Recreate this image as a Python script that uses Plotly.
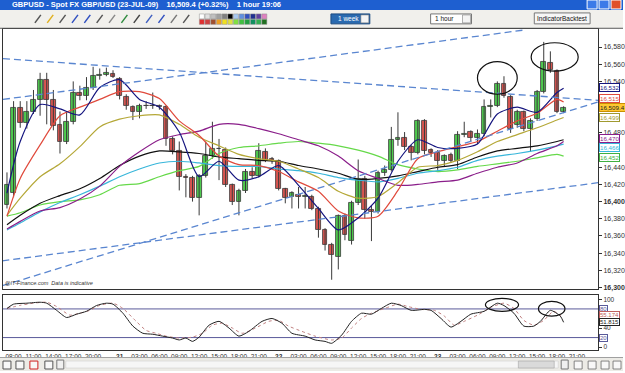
import plotly.graph_objects as go
from datetime import datetime, timedelta

BASE = datetime(2009, 7, 21, 0, 0)

# ---------------- data ----------------
candle_hours = list(range(-17, 68))  # hourly candles, hours relative to 21-Jul 00:00
opens = [16396,16410,16509,16492,16504,16518,16542,16518,16489,16470,
         16493,16527,16523,16533,16547,16548,16549,16543,16522,16510,
         16505,16511,16512,16511,16510,16473,16459,16429,16428,16404,
         16430,16453,16462,16460,16419,16400,16413,16435,16430,16458,
         16450,16447,16415,16405,16408,16406,16406,16392,16367,16350,
         16336,16383,16354,16399,16426,16390,16388,16434,16437,16472,
         16474,16464,16457,16494,16460,16457,16448,16455,16448,16478,
         16481,16474,16479,16510,16512,16537,16522,16489,16504,16485,
         16496,16528,16562,16552,16505]
highs = [16434,16517,16517,16517,16530,16550,16550,16530,16505,16505,
         16540,16535,16545,16557,16555,16556,16553,16545,16525,16512,
         16514,16517,16527,16513,16512,16476,16470,16432,16430,16432,
         16470,16493,16473,16463,16421,16415,16438,16440,16468,16462,
         16452,16449,16416,16412,16417,16417,16408,16394,16369,16352,
         16385,16386,16401,16449,16430,16395,16436,16442,16487,16504,
         16481,16466,16496,16496,16462,16460,16455,16457,16482,16493,
         16483,16484,16519,16519,16540,16546,16524,16507,16506,16497,
         16530,16586,16575,16554,16511]
lows = [16392,16405,16486,16485,16502,16500,16490,16483,16456,16467,
        16490,16518,16518,16530,16542,16546,16544,16519,16507,16495,
        16497,16508,16508,16507,16465,16455,16413,16405,16400,16384,
        16428,16450,16425,16417,16396,16384,16410,16427,16428,16446,
        16444,16413,16398,16392,16392,16392,16390,16358,16343,16309,
        16321,16355,16350,16396,16380,16354,16386,16430,16435,16465,
        16460,16448,16455,16455,16452,16437,16441,16445,16438,16475,
        16470,16467,16476,16498,16510,16521,16480,16486,16482,16458,
        16494,16526,16550,16503,16503]
closes = [16419,16509,16492,16504,16518,16542,16518,16488,16470,16493,
          16527,16523,16533,16547,16548,16550,16545,16523,16511,16505,
          16512,16512,16511,16510,16473,16459,16429,16428,16404,16430,
          16453,16462,16461,16419,16400,16413,16435,16430,16459,16448,
          16447,16415,16404,16410,16406,16407,16392,16367,16350,16338,
          16383,16361,16399,16426,16390,16388,16434,16437,16472,16474,
          16464,16457,16494,16459,16457,16448,16453,16448,16478,16479,
          16474,16479,16510,16512,16537,16523,16485,16504,16485,16494,
          16528,16563,16553,16505,16509]

# moving averages read at these hours
ma_hours = [-17,-15,-12,-9,-6,-3,0,3,6,9,12,15,18,21,24,27,30,33,36,39,42,45,48,51,54,57,60,63,66,67]
ma_navy = [16410,16470,16513,16508,16501,16533,16542,16519,16510,16481,16429,16447,16425,16429,16442,
           16419,16392,16367,16381,16404,16447,16472,16463,16462,16467,16502,16510,16504,16527,16532]
ma_red = [16383,16427,16466,16500,16510,16519,16528,16528,16520,16494,16477,16453,16443,16442,16435,
          16423,16412,16389,16381,16383,16413,16450,16458,16464,16470,16482,16494,16503,16519,16516]
ma_olive = [16384,16404,16429,16444,16464,16487,16496,16500,16501,16490,16475,16465,16455,16450,16447,
            16438,16428,16412,16404,16406,16422,16440,16442,16448,16458,16470,16478,16486,16495,16498]
ma_purple = [16368,16377,16389,16393,16403,16418,16441,16458,16472,16478,16482,16490,16490,16485,16479,
             16472,16465,16453,16436,16427,16419,16420,16423,16425,16433,16440,16445,16456,16465,16470]
ma_black = [16373,16384,16398,16407,16415,16427,16442,16453,16459,16458,16456,16452,16450,16448,16447,
            16442,16438,16433,16426,16427,16430,16435,16440,16443,16452,16459,16462,16465,16470,16472]
ma_cyan = [16367,16375,16388,16399,16408,16418,16429,16438,16445,16447,16445,16442,16441,16441,16438,
           16436,16433,16428,16425,16423,16427,16433,16436,16440,16448,16453,16456,16460,16465,16467]
ma_green = [16383,16387,16396,16400,16402,16408,16419,16421,16429,16436,16441,16456,16463,16465,16468,
            16470,16468,16465,16460,16453,16443,16438,16435,16437,16441,16444,16447,16451,16455,16453]

# stochastic (%K solid, %D dotted)
stk_hours = [-17,-16,-14,-12,-11,-9.5,-8,-6.5,-5,-3.5,-2,-1,0.5,2,3.5,5,6.5,8,9,10,11,12,13.5,15,16.5,18,
             19.5,21.5,23,24.5,26,28,29.5,31,32,33.5,35,36.5,38,39.5,41,42.5,44,46,47,48.5,50,51.5,53,55,
             57,58,59.5,61,62.5,63.5,65,66.5,67]
stk_k = [81,90,92,94,92,77,62,69,75,87,92,90,71,44,29,27,23,19,15,19,12,21,46,54,40,23,
         33,54,60,50,29,23,15,12,8,25,54,71,69,81,92,87,77,79,77,60,42,54,69,75,
         92,87,71,44,44,54,77,65,52]
std_hours = [-17,-15,-13,-11,-9.5,-7.5,-6,-4.5,-3,-1,0.5,2.5,4,5.5,7,9,11,12.5,14,15.5,17,18.5,20.5,22.5,24,
             25.5,27.5,29.5,32,33.5,35,36.5,38,40,42,43.5,45.5,47.5,49,50.5,52,54,56,58,59.5,61,62.5,64,65.5,67]
std_d = [81,87.5,92,94,85,67,71,77,87.5,92,81,54,35,29,23,19,21,29,46,50,40,29,40,54,56,
         44,33,23,15,19,40,60,71,81,90,85,79,77,65,46,54,67,83,92,81,56,46,56,75,60]

# drawn trend lines (hour, price) pairs
trend_lines = [((-17.6, 16566.5), (72.2, 16518)),
               ((-17.6, 16519), (61.2, 16600)),
               ((-17.7, 16331), (72.2, 16422)),
               ((-17.7, 16302), (72.2, 16516))]
# hand-drawn ellipses: (h0, h1, v0, v1)
price_ellipses = [(54.0, 60.0, 16525, 16563), (62.1, 69.2, 16552, 16585)]
stoch_ellipses = [(55.2, 60.2, 75, 102), (63.2, 67.2, 65, 96)]

price_ticks = [16300, 16320, 16340, 16360, 16380, 16400, 16420, 16440, 16480, 16540, 16560, 16580]
x_tick_hours = [-16,-13,-10,-7,-4,0,3,6,9,12,15,18,21,24,27,30,33,36,39,42,45,48,51,54,57,60,63,66,69]
x_tick_text = ['08:00','11:00','14:00','17:00','20:00','<b>21</b>','03:00','06:00','09:00','12:00','15:00',
               '18:00','21:00','<b>22</b>','03:00','06:00','09:00','12:00','15:00','18:00','21:00','<b>23</b>',
               '03:00','06:00','09:00','12:00','15:00','18:00','21:00']

# ---------------- helpers ----------------
W, H = 625, 373
def T(h):
    return BASE + timedelta(hours=h)
def px(x):
    return x / W
def py(y):
    return 1 - y / H

FONT = 'Arial'
t_left, t_right = T(-17.6), T(72.2)
HOUR_MS = 3600 * 1000

fig = go.Figure()

# candle wicks
for up in (True, False):
    wx, wy = [], []
    for h, o, hi, lo, c in zip(candle_hours, opens, highs, lows, closes):
        if (c >= o) == up:
            wx += [T(h), T(h), None]
            wy += [lo, hi, None]
    fig.add_trace(go.Scatter(x=wx, y=wy, mode='lines', line=dict(color='#3a3a3a', width=1),
                             hoverinfo='skip', showlegend=False, xaxis='x', yaxis='y'))
# candle bodies
for up, fill in ((True, '#4FCB4F'), (False, '#DA5550')):
    bx, bb, bh = [], [], []
    for h, o, c in zip(candle_hours, opens, closes):
        if (c >= o) == up:
            bx.append(T(h))
            bb.append(min(o, c))
            bh.append(max(abs(c - o), 0.8))
    fig.add_trace(go.Bar(x=bx, y=bh, base=bb, width=0.72 * HOUR_MS,
                         marker=dict(color=fill, line=dict(color='#3a3a3a', width=0.8)),
                         hoverinfo='skip', showlegend=False, xaxis='x', yaxis='y'))

ma_defs = [(ma_green, '#66D94A'), (ma_cyan, '#38B6DA'), (ma_black, '#111111'),
           (ma_purple, '#8A1E8A'), (ma_olive, '#B5A838'), (ma_red, '#E04A3C'), (ma_navy, '#15157F')]
for vals, col in ma_defs:
    fig.add_trace(go.Scatter(x=[T(h) for h in ma_hours], y=vals, mode='lines',
                             line=dict(color=col, width=1.2, shape='spline', smoothing=0.7),
                             hoverinfo='skip', showlegend=False, xaxis='x', yaxis='y'))

fig.add_trace(go.Scatter(x=[T(h) for h in std_hours], y=std_d, mode='lines',
                         line=dict(color='#C08080', width=1, dash='dot', shape='spline', smoothing=0.6),
                         hoverinfo='skip', showlegend=False, xaxis='x2', yaxis='y2'))
fig.add_trace(go.Scatter(x=[T(h) for h in stk_hours], y=stk_k, mode='lines',
                         line=dict(color='#222222', width=1, shape='spline', smoothing=0.6),
                         hoverinfo='skip', showlegend=False, xaxis='x2', yaxis='y2'))

shapes = []
for (h0, v0), (h1, v1) in trend_lines:
    shapes.append(dict(type='line', xref='x', yref='y', x0=T(h0), y0=v0, x1=T(h1), y1=v1,
                       line=dict(color='#5A86D0', width=1.3, dash='7px,4px')))
for h0, h1, v0, v1 in price_ellipses:
    shapes.append(dict(type='circle', xref='x', yref='y', x0=T(h0), x1=T(h1), y0=v0, y1=v1,
                       line=dict(color='#111', width=1.2)))
for h0, h1, v0, v1 in stoch_ellipses:
    shapes.append(dict(type='circle', xref='x2', yref='y2', x0=T(h0), x1=T(h1), y0=v0, y1=v1,
                       line=dict(color='#111', width=1.2)))
for lvl in (80, 20):
    shapes.append(dict(type='line', xref='x2', yref='y2', x0=t_left, x1=t_right, y0=lvl, y1=lvl,
                       line=dict(color='#5A5A9A', width=1), layer='below'))

# window chrome
def rect(x0, y0, x1, y1, fill, line=None, lw=0):
    shapes.append(dict(type='rect', xref='paper', yref='paper', x0=px(x0), x1=px(x1), y0=py(y1), y1=py(y0),
                       fillcolor=fill, line=dict(color=line or fill, width=lw), layer='above'))
rect(0, 0, 625, 10, '#1E5FD0')
rect(0, 10, 625, 28, '#F1F0EC')
rect(0, 28, 625, 29, '#555555')
rect(0, 360, 625, 373, '#ECEBE6')
rect(0, 359, 625, 360, '#A0A0A0')
# window buttons
rect(589, 0, 599, 9, '#3C7AE8', '#ffffff', 1)
rect(601, 0, 611, 9, '#3C7AE8', '#ffffff', 1)
rect(613, 0, 623, 9, '#E0502A', '#ffffff', 1)
# colour palette
pal_top = ['#FFFFFF','#E0E0E0','#C0C0C0','#A0A0A0','#808080','#000000','#A8C8F0','#6090E0','#3050C0','#203090','#6040A0','#E080C0']
pal_bot = ['#E03030','#D04040','#A05030','#F0A020','#F0E020','#E0E040','#80E040','#40C040','#20A040','#109060','#30B050','#207020']
for i, c in enumerate(pal_top):
    rect(200 + i * 5.7, 14, 205 + i * 5.7, 19, c, '#909090', 0.5)
for i, c in enumerate(pal_bot):
    rect(200 + i * 5.7, 19.5, 205 + i * 5.7, 24.5, c, '#909090', 0.5)
# dropdowns / button
rect(332, 14, 371, 24, '#2A6AB0', '#1A4A80', 1)
rect(362, 15, 370, 23, '#F4F4F4', '#666', 0.5)
rect(432, 14, 473, 24, '#FFFFFF', '#777', 1)
rect(464, 15, 472, 23, '#F4F4F4', '#666', 0.5)
shapes.append(dict(type='rect', xref='paper', yref='paper', x0=px(536), x1=px(592), y0=py(24), y1=py(13),
                   fillcolor='#F6F6F6', line=dict(color='#777', width=1)))
# toolbar icons (simple glyph shapes)
icon_cols = ['#555', '#E0B020', '#555', '#3050C0', '#3050C0', '#555', '#888', '#2E8B3E', '#444', '#4060C0', '#3050C0', '#777', '#555']
for i, c in enumerate(icon_cols):
    cx = 38 + i * 12.4
    shapes.append(dict(type='line', xref='paper', yref='paper', x0=px(cx - 3), x1=px(cx + 3), y0=py(23), y1=py(15),
                       line=dict(color=c, width=1.5)))
# bottom icons
for cx, c in [(7, '#555'), (20, '#555'), (34, '#D02020'), (49, '#555')]:
    rect(cx - 4, 363, cx + 4, 371, '#F8F8F8', c, 1)
rect(57, 362, 64, 371, '#F0F0F0', '#777', 1)
rect(66, 363, 560, 370, '#F6F6F6', '#C8C8C8', 0.5)
rect(520, 363, 556, 370, '#DADADA', '#999', 0.5)
rect(563, 362, 570, 371, '#F0F0F0', '#777', 1)
for cx in (580, 594, 607, 619):
    rect(cx - 4, 363, cx + 4, 371, '#F8F8F8', '#6A6A6A', 0.8)

ann = []
def text(x, y, s, size=7, color='#222', anchor='left', **kw):
    ann.append(dict(xref='paper', yref='paper', x=px(x), y=py(y), text=s, showarrow=False,
                    xanchor=anchor, yanchor='middle', font=dict(family=FONT, size=size, color=color), **kw))
text(10, 5, '<b>GBPUSD - Spot FX GBP/USD (23-JUL-09)    16,509.4 (+0.32%)    1 hour 19:06</b>', size=7.5, color='white')
text(337, 19, '1 week', size=6.5, color='white')
text(434, 19, '1 hour', size=6.5, color='#111')
text(564, 18.5, 'IndicatorBacktest', size=6.5, color='#111', anchor='center')
text(3, 285, '<i>@IT-Finance.com  Data is indicative</i>', size=5.5, color='#333')

def box(yval, s, col, yref='y', bg='white', tcol=None, size=6.2):
    ann.append(dict(xref='paper', yref=yref, x=px(601), y=yval, text=s, showarrow=False, xanchor='left',
                    yanchor='middle', font=dict(family=FONT, size=size, color=tcol or col),
                    bordercolor=col, borderwidth=1, borderpad=0, bgcolor=bg))
box(16451, '16,452', '#40B040')
box(16463, '16,466', '#38B6DA')
box(16473, '16,470', '#8A1E8A')
box(16498, '16,499', '#A09A30')
box(16520, '16,515', '#E04A3C')
box(16509.4, '16,509.4', '#C89000', bg='#FFC830', tcol='#222')
box(16533, '16,532', '#15157F')
box(80, '80', '#5A5A9A', yref='y2', size=6)
box(20, '20', '#5A5A9A', yref='y2', size=6)
box(68, '55.174', '#C06060', yref='y2', size=6)
box(53, '51.815', '#222222', yref='y2', size=6)

axis_common = dict(showgrid=False, zeroline=False, showline=True, linecolor='#333', linewidth=1, mirror=True)
fig.update_layout(
    width=W, height=H, margin=dict(l=0, r=0, t=0, b=0),
    paper_bgcolor='white', plot_bgcolor='white', showlegend=False, barmode='overlay', bargap=0,
    shapes=shapes, annotations=ann,
    xaxis=dict(domain=[px(3), px(600)], range=[t_left, t_right], anchor='y', showticklabels=False,
               ticks='', **axis_common),
    yaxis=dict(domain=[py(291), py(29)], range=[16297.7, 16601.2], anchor='x', side='right',
               tickvals=price_ticks,
               ticktext=[('<b>%s</b>' if v % 100 == 0 else '%s') % f'{v:,}' for v in price_ticks],
               ticks='outside', ticklen=3, tickcolor='#333',
               tickfont=dict(family=FONT, size=7, color='#333'), **axis_common),
    xaxis2=dict(domain=[px(3), px(600)], range=[t_left, t_right], anchor='y2',
                tickvals=[T(h) for h in x_tick_hours], ticktext=x_tick_text, ticks='', ticklen=0,
                tickfont=dict(family=FONT, size=6.5, color='#333'), **axis_common),
    yaxis2=dict(domain=[py(352), py(297)], range=[-6.25, 108.3], anchor='x2', side='right',
                tickvals=[0, 40, 100], ticktext=['0', '40', '100'],
                ticks='outside', ticklen=3, tickcolor='#333',
                tickfont=dict(family=FONT, size=6.5, color='#333'), **axis_common),
)
fig.write_html('out.html')
